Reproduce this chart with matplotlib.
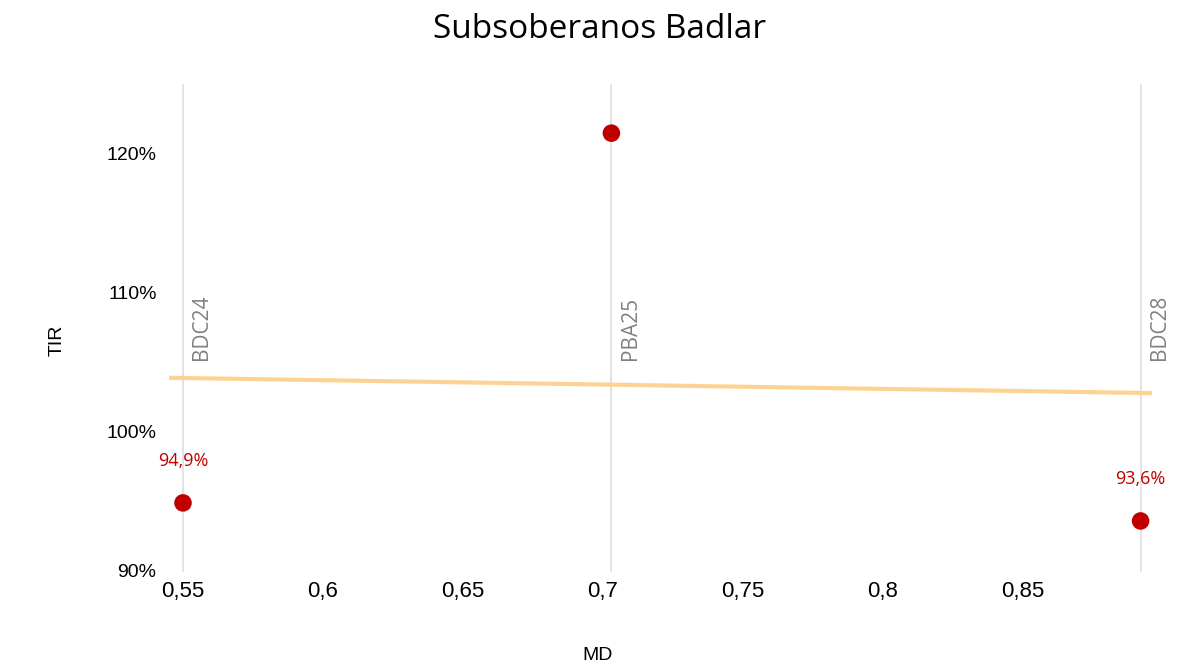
import matplotlib.pyplot as plt
from matplotlib.ticker import FuncFormatter

# Datos
bonos = ['BDC24', 'PBA25', 'BDC28']
md = [0.550, 0.703, 0.892]
tir = [94.9, 121.5, 93.6]
mostrar_valor = [True, False, True]

# Línea de tendencia (extremos leídos)
tend_x = [0.545, 0.896]
tend_y = [103.9, 102.8]

x_ticks = [0.55, 0.6, 0.65, 0.7, 0.75, 0.8, 0.85]
y_ticks = [90, 100, 110, 120]

rojo = '#C00000'
gris = '#808080'

fig = plt.figure(figsize=(12.03, 6.65), dpi=100)
ax = fig.add_axes([183 / 1203, 1 - 571 / 665, (1154.6 - 183) / 1203, (571 - 84.5) / 665])

ax.set_xlim(0.55, 0.897)
ax.set_ylim(90, 125)

# líneas verticales en cada bono
for x in md:
    ax.axvline(x, color='#DEDEDE', lw=1.2, zorder=1, clip_on=False)

ax.plot(tend_x, tend_y, color='#FDD394', lw=3, zorder=2, clip_on=False,
        solid_capstyle='butt')

ax.scatter(md, tir, s=160, color=rojo, zorder=3, edgecolors='none', clip_on=False)

for x, y, nombre, mv in zip(md, tir, bonos, mostrar_valor):
    ax.text(x + 0.003, 105.2, nombre, rotation=90, ha='left', va='bottom',
            color=gris, fontsize=15, family='Open Sans')
    if mv:
        ax.text(x, y + 2.4, f'{y:.1f}%'.replace('.', ','), ha='center', va='bottom',
                color=rojo, fontsize=13, family='Open Sans')

ax.set_xticks(x_ticks)
ax.set_yticks(y_ticks)
ax.xaxis.set_major_formatter(FuncFormatter(lambda v, p: f'{v:g}'.replace('.', ',')))
ax.yaxis.set_major_formatter(FuncFormatter(lambda v, p: f'{v:.0f}%'))
ax.tick_params(axis='x', length=0, pad=7, labelsize=16)
ax.tick_params(axis='y', length=0, pad=19, labelsize=14)
for lbl in ax.get_xticklabels() + ax.get_yticklabels():
    lbl.set_family('Liberation Sans')

for s in ax.spines.values():
    s.set_visible(False)

fig.text(600 / 1203, 1 - 29 / 665, 'Subsoberanos Badlar', ha='center', va='center',
         fontsize=24, family='Open Sans')
fig.text(57 / 1203, 1 - 340 / 665, 'TIR', rotation=90, ha='center', va='center',
         fontsize=14, family='Liberation Sans')
fig.text(598 / 1203, 1 - 655 / 665, 'MD', ha='center', va='center',
         fontsize=14, family='Liberation Sans')

fig.savefig('out.png', dpi=100)
